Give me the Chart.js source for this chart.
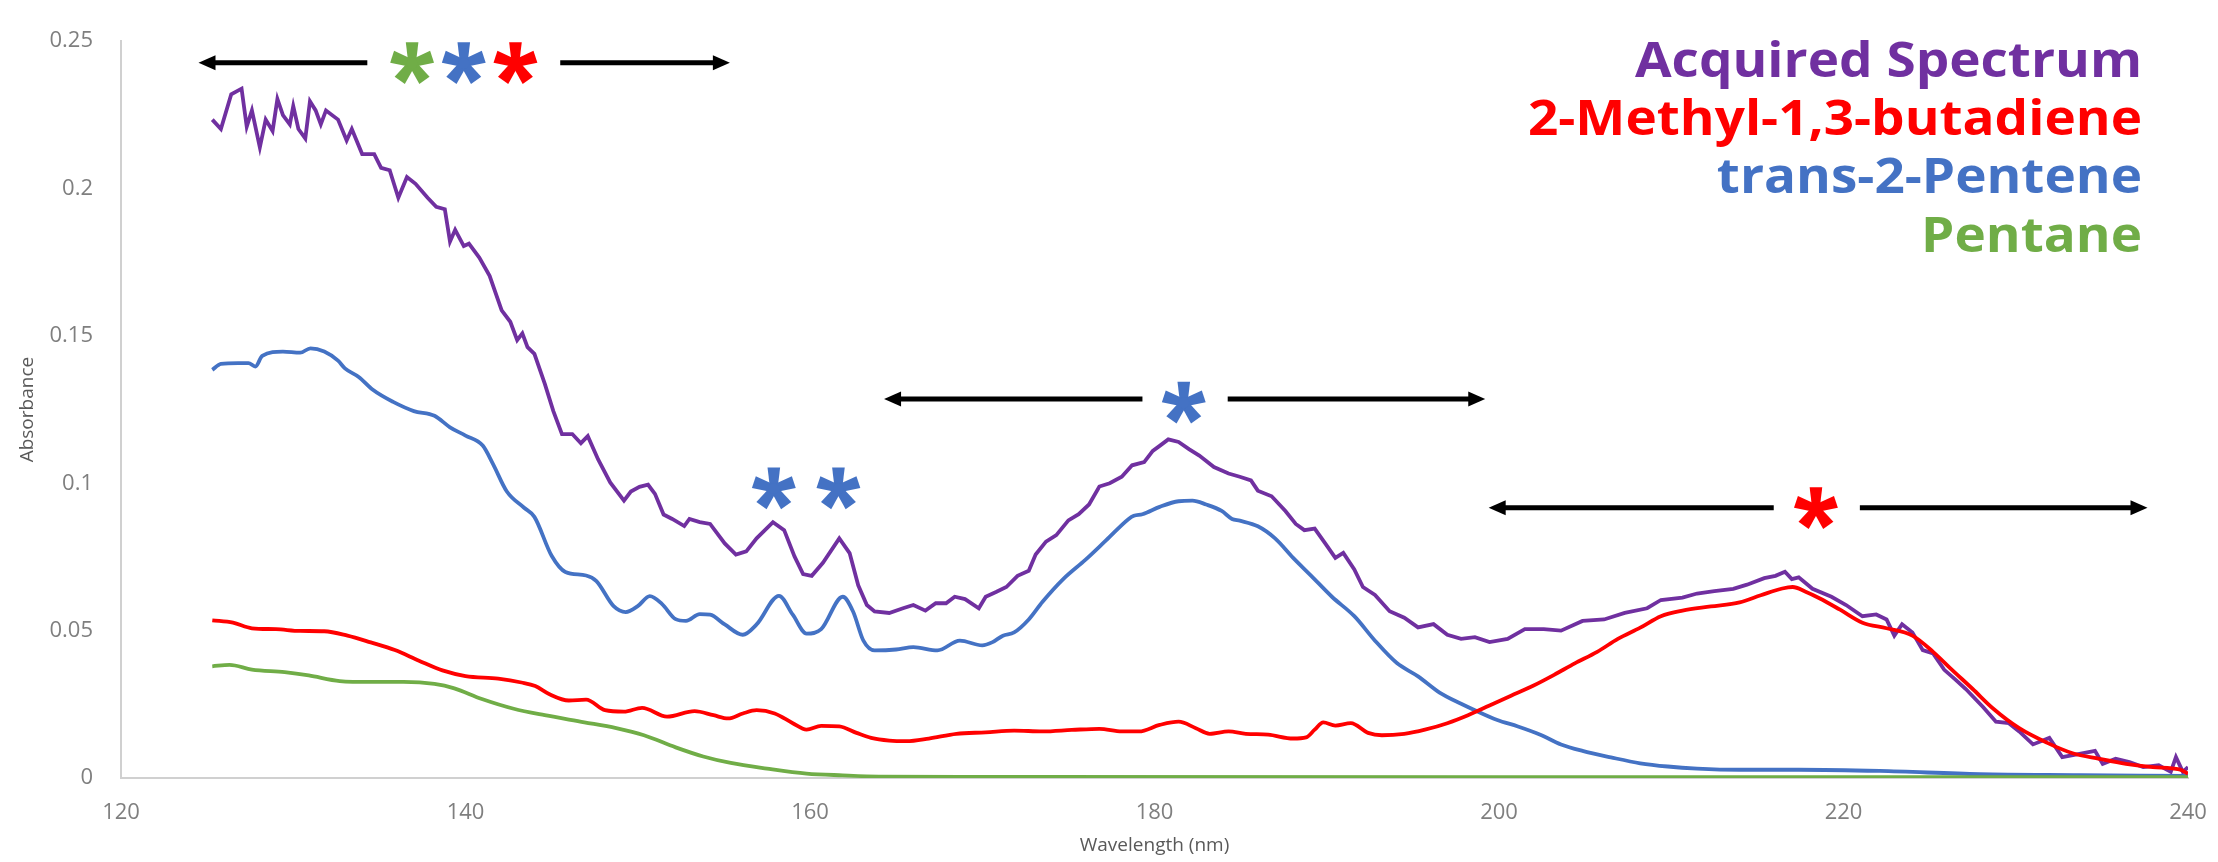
<!DOCTYPE html>
<html>
<head>
<meta charset="utf-8">
<title>Acquired spectrum vs. reference spectra</title>
<script src="https://cdn.jsdelivr.net/npm/chart.js@4.4.1/dist/chart.umd.min.js"></script>
<style>
  html, body { margin: 0; padding: 0; background: #ffffff; }
  canvas { display: block; }
</style>
</head>
<body>
<canvas id="spectrumChart" width="2218" height="862"></canvas>
<script>
// wavelength (nm) and absorbance
const acquiredNm = [125.3, 125.8, 126.4, 127.0, 127.3, 127.6, 128.06, 128.4, 128.8, 129.08, 129.4, 129.8, 130.0, 130.3, 130.7, 130.97, 131.3, 131.6, 131.9, 132.6, 133.1, 133.4, 134.0, 134.7, 135.1, 135.6, 136.1, 136.6, 137.1, 137.8, 138.3, 138.8, 139.1, 139.4, 139.9, 140.2, 140.8, 141.4, 142.1, 142.6, 143.0, 143.3, 143.6, 144.0, 144.6, 145.1, 145.6, 146.2, 146.7, 147.1, 147.7, 148.4, 149.2, 149.6, 150.1, 150.6, 151.0, 151.5, 152.0, 152.7, 153.0, 153.6, 154.2, 155.05, 155.7, 156.3, 156.9, 157.85, 158.5, 159.1, 159.6, 160.1, 160.75, 161.7, 162.3, 162.8, 163.3, 163.75, 164.6, 165.4, 166.0, 166.7, 167.3, 167.9, 168.4, 169.0, 169.8, 170.2, 170.8, 171.4, 172.05, 172.7, 173.1, 173.7, 174.3, 175.0, 175.6, 176.2, 176.8, 177.4, 178.1, 178.7, 179.4, 179.9, 180.3, 180.8, 181.4, 182.0, 182.6, 183.45, 184.3, 184.95, 185.6, 186.0, 186.8, 187.6, 188.2, 188.7, 189.3, 189.9, 190.5, 190.96, 191.6, 192.1, 192.8, 193.65, 194.5, 195.3, 196.2, 197.0, 197.8, 198.6, 199.45, 200.5, 201.5, 202.6, 203.6, 204.85, 206.1, 207.3, 208.6, 209.4, 210.65, 211.5, 212.5, 213.6, 214.4, 215.4, 216.05, 216.6, 217.0, 217.4, 218.2, 219.3, 220.15, 221.1, 221.9, 222.5, 222.95, 223.4, 224.0, 224.6, 225.2, 225.85, 226.5, 227.1, 228.1, 228.85, 229.6, 230.2, 231.0, 231.95, 232.7, 233.7, 234.6, 235.05, 235.8, 236.6, 237.4, 238.3, 239.0, 239.3, 239.7, 240.0];
const acquiredAbs = [0.2234, 0.2202, 0.2320, 0.2339, 0.2210, 0.2265, 0.2140, 0.2234, 0.2195, 0.2304, 0.2249, 0.2218, 0.2280, 0.2202, 0.2170, 0.2296, 0.2265, 0.2218, 0.2265, 0.2234, 0.2163, 0.2202, 0.2117, 0.2117, 0.2070, 0.2062, 0.1969, 0.2039, 0.2016, 0.1969, 0.1938, 0.1930, 0.1820, 0.1860, 0.1805, 0.1813, 0.1766, 0.1704, 0.1587, 0.1548, 0.1486, 0.1509, 0.1462, 0.1439, 0.1338, 0.1245, 0.1167, 0.1167, 0.1136, 0.1160, 0.1081, 0.1003, 0.0941, 0.0972, 0.0988, 0.0995, 0.0964, 0.0894, 0.0879, 0.0855, 0.0879, 0.0868, 0.0862, 0.0796, 0.0758, 0.0769, 0.0813, 0.0868, 0.0841, 0.0752, 0.0692, 0.0686, 0.0730, 0.0813, 0.0763, 0.0654, 0.0587, 0.0565, 0.0560, 0.0576, 0.0587, 0.0568, 0.0593, 0.0593, 0.0615, 0.0607, 0.0576, 0.0615, 0.0631, 0.0648, 0.0686, 0.0703, 0.0758, 0.0802, 0.0824, 0.0874, 0.0895, 0.0928, 0.0989, 0.1000, 0.1022, 0.1061, 0.1072, 0.1110, 0.1127, 0.1149, 0.1140, 0.1116, 0.1094, 0.1055, 0.1033, 0.1022, 0.1010, 0.0975, 0.0956, 0.0906, 0.0862, 0.0841, 0.0846, 0.0797, 0.0747, 0.0764, 0.0708, 0.0648, 0.0621, 0.0566, 0.0544, 0.0511, 0.0522, 0.0486, 0.0472, 0.0478, 0.0461, 0.0472, 0.0505, 0.0505, 0.0500, 0.0533, 0.0538, 0.0560, 0.0576, 0.0604, 0.0612, 0.0626, 0.0634, 0.0642, 0.0656, 0.0678, 0.0686, 0.0700, 0.0675, 0.0681, 0.0642, 0.0615, 0.0587, 0.0549, 0.0555, 0.0538, 0.0483, 0.0522, 0.0494, 0.0434, 0.0423, 0.0367, 0.0334, 0.0302, 0.0241, 0.0191, 0.0186, 0.0158, 0.0114, 0.0136, 0.0071, 0.0082, 0.0092, 0.0048, 0.0065, 0.0054, 0.0037, 0.0043, 0.0021, 0.0071, 0.0021, 0.0037];

const dieneNm = [125.3, 126.5, 127.6, 129.0, 130.4, 131.8, 133.15, 134.5, 135.9, 137.3, 138.66, 140.0, 141.9, 143.25, 144.05, 144.85, 146.0, 147.0, 148.1, 149.2, 150.25, 151.7, 153.3, 154.4, 155.25, 156.1, 156.9, 157.95, 159.0, 159.8, 160.65, 161.7, 162.7, 163.55, 164.6, 165.6, 166.9, 168.5, 170.2, 171.85, 173.5, 175.2, 176.8, 178.1, 179.1, 180.3, 181.4, 182.4, 183.2, 184.3, 185.3, 186.6, 188.05, 188.8, 189.3, 189.8, 190.5, 191.4, 192.4, 193.2, 194.5, 195.7, 197.0, 198.2, 199.45, 200.7, 201.95, 203.2, 204.4, 205.7, 206.9, 208.2, 209.4, 210.65, 212.3, 213.97, 215.2, 216.45, 217.05, 217.8, 218.6, 219.8, 221.1, 222.5, 224.0, 225.2, 226.3, 227.5, 228.7, 230.2, 231.8, 233.3, 234.85, 236.4, 237.95, 239.5, 240.0];
const dieneAbs = [0.0535, 0.0527, 0.0508, 0.0505, 0.0499, 0.0498, 0.0483, 0.0460, 0.0434, 0.0398, 0.0365, 0.0346, 0.0337, 0.0324, 0.0312, 0.0285, 0.0263, 0.0266, 0.0230, 0.0225, 0.0238, 0.0208, 0.0227, 0.0213, 0.0202, 0.0219, 0.0230, 0.0219, 0.0186, 0.0164, 0.0177, 0.0175, 0.0153, 0.0136, 0.0127, 0.0125, 0.0134, 0.0150, 0.0155, 0.0161, 0.0158, 0.0163, 0.0167, 0.0158, 0.0158, 0.0180, 0.0191, 0.0169, 0.0150, 0.0158, 0.0150, 0.0147, 0.0134, 0.0138, 0.0164, 0.0189, 0.0178, 0.0186, 0.0153, 0.0145, 0.0150, 0.0164, 0.0186, 0.0213, 0.0246, 0.0279, 0.0312, 0.0350, 0.0389, 0.0428, 0.0472, 0.0510, 0.0549, 0.0568, 0.0582, 0.0596, 0.0620, 0.0643, 0.0648, 0.0632, 0.0610, 0.0571, 0.0527, 0.0508, 0.0483, 0.0428, 0.0367, 0.0302, 0.0235, 0.0169, 0.0120, 0.0084, 0.0065, 0.0048, 0.0037, 0.0029, 0.0015];

const penteneNm = [125.3, 125.8, 126.8, 127.4, 127.8, 128.2, 129.4, 130.4, 131.0, 131.8, 132.6, 133.0, 133.8, 134.6, 135.8, 137.0, 138.2, 139.1, 140.0, 141.0, 141.6, 142.4, 143.4, 144.0, 145.0, 145.8, 147.0, 147.6, 148.6, 149.3, 150.0, 150.7, 151.4, 152.2, 152.8, 153.6, 154.2, 155.05, 156.1, 156.9, 158.2, 159.0, 159.8, 160.65, 161.9, 162.5, 163.1, 163.75, 165.0, 166.0, 167.4, 168.7, 170.0, 170.6, 171.2, 171.85, 172.7, 173.5, 174.7, 176.0, 177.2, 178.5, 178.8, 179.3, 180.3, 181.4, 182.2, 183.0, 183.9, 184.5, 184.95, 186.0, 187.0, 188.05, 189.1, 190.3, 191.6, 192.8, 194.07, 195.3, 196.55, 197.8, 198.6, 199.9, 201.1, 202.4, 203.6, 204.85, 206.5, 208.2, 209.8, 211.5, 214.0, 217.4, 222.1, 227.9, 233.7, 240.0];
const penteneAbs = [0.1385, 0.1405, 0.1408, 0.1408, 0.1396, 0.1432, 0.1447, 0.1443, 0.1458, 0.1447, 0.1416, 0.1390, 0.1361, 0.1318, 0.1276, 0.1245, 0.1229, 0.1190, 0.1162, 0.1128, 0.1065, 0.0972, 0.0917, 0.0886, 0.0754, 0.0699, 0.0687, 0.0668, 0.0583, 0.0563, 0.0583, 0.0617, 0.0591, 0.0539, 0.0533, 0.0556, 0.0554, 0.0521, 0.0486, 0.0521, 0.0618, 0.0554, 0.0490, 0.0505, 0.0615, 0.0565, 0.0466, 0.0433, 0.0436, 0.0444, 0.0433, 0.0466, 0.0450, 0.0461, 0.0483, 0.0494, 0.0538, 0.0598, 0.0675, 0.0741, 0.0807, 0.0879, 0.0890, 0.0895, 0.0920, 0.0939, 0.0941, 0.0928, 0.0906, 0.0879, 0.0873, 0.0854, 0.0813, 0.0747, 0.0686, 0.0615, 0.0549, 0.0466, 0.0390, 0.0345, 0.0290, 0.0252, 0.0230, 0.0197, 0.0175, 0.0147, 0.0114, 0.0092, 0.0070, 0.0050, 0.0039, 0.0032, 0.0028, 0.0028, 0.0024, 0.0013, 0.0010, 0.0007];

const pentaneNm = [125.3, 126.3, 127.6, 129.5, 130.9, 132.7, 134.5, 136.4, 138.2, 139.35, 140.95, 142.8, 144.6, 146.9, 148.75, 150.36, 152.2, 153.8, 155.4, 157.5, 159.8, 161.9, 164.0, 170.0, 200.0, 240.0];
const pentaneAbs = [0.0379, 0.0384, 0.0368, 0.0359, 0.0348, 0.0329, 0.0326, 0.0326, 0.0319, 0.0304, 0.0268, 0.0235, 0.0213, 0.0189, 0.0169, 0.0145, 0.0104, 0.0073, 0.0051, 0.0032, 0.0015, 0.0009, 0.0005, 0.0004, 0.0003, 0.0003];

const seriesNames = ['Acquired Spectrum', '2-Methyl-1,3-butadiene', 'trans-2-Pentene', 'Pentane'];
const seriesColors = ['#7030A0', '#FF0000', '#4472C4', '#70AD47'];

const xTickValues = [120, 140, 160, 180, 200, 220, 240];
const yTickValues = [0, 0.05, 0.1, 0.15, 0.2, 0.25];
const yTickLabels = ['0', '0.05', '0.1', '0.15', '0.2', '0.25'];

// annotation arrows: [left tip, left end, right start, right tip, absorbance level] in nm
const arrowSpans = [
  [124.5, 134.3, 145.5, 155.35, 0.2427],
  [164.3, 179.3, 184.25, 199.2, 0.1286],
  [199.4, 215.95, 220.95, 237.65, 0.0917]
];
// asterisks: [nm, absorbance, colour index into seriesColors]
const asteriskMarks = [
  [136.9, 0.2432, 3], [139.9, 0.2432, 2], [142.9, 0.2432, 1],
  [181.7, 0.1280, 2],
  [218.4, 0.0922, 1],
  [157.9, 0.0989, 2], [161.65, 0.0989, 2]
];

function toPoints(xs, ys) {
  return xs.map((x, i) => ({ x: x, y: ys[i] }));
}

function drawArrowHead(ctx, tipX, y, dir) {
  // dir = -1 points left, 1 points right
  ctx.beginPath();
  ctx.moveTo(tipX, y);
  ctx.lineTo(tipX - dir * 17, y - 7.5);
  ctx.lineTo(tipX - dir * 17, y + 7.5);
  ctx.closePath();
  ctx.fill();
}

function drawAsterisk(ctx, cx, cy, r, color) {
  ctx.save();
  ctx.translate(cx, cy + 0.1 * r);
  ctx.fillStyle = color;
  for (let k = 0; k < 5; k++) {
    ctx.save();
    ctx.rotate(k * 2 * Math.PI / 5);
    ctx.beginPath();
    ctx.moveTo(-3.8, 0);
    ctx.lineTo(-6.3, -r);
    ctx.lineTo(6.3, -r);
    ctx.lineTo(3.8, 0);
    ctx.closePath();
    ctx.fill();
    ctx.restore();
  }
  ctx.beginPath();
  ctx.arc(0, 0, 5.5, 0, 2 * Math.PI);
  ctx.fill();
  ctx.restore();
}

const annotationPlugin = {
  id: 'annotations',
  afterDatasetsDraw(chart) {
    const ctx = chart.ctx;
    const xs = chart.scales.x;
    const ys = chart.scales.y;
    ctx.save();
    ctx.strokeStyle = '#000000';
    ctx.fillStyle = '#000000';
    ctx.lineWidth = 5;
    arrowSpans.forEach(span => {
      const y = ys.getPixelForValue(span[4]);
      const a = xs.getPixelForValue(span[0]);
      const b = xs.getPixelForValue(span[1]);
      const c = xs.getPixelForValue(span[2]);
      const d = xs.getPixelForValue(span[3]);
      ctx.beginPath();
      ctx.moveTo(a + 10, y);
      ctx.lineTo(b, y);
      ctx.moveTo(c, y);
      ctx.lineTo(d - 10, y);
      ctx.stroke();
      drawArrowHead(ctx, a, y, -1);
      drawArrowHead(ctx, d, y, 1);
    });
    asteriskMarks.forEach(m => {
      drawAsterisk(ctx, xs.getPixelForValue(m[0]), ys.getPixelForValue(m[1]), 21, seriesColors[m[2]]);
    });
    ctx.restore();
  }
};

// coloured series names in the top-right corner
const nameListPlugin = {
  id: 'nameList',
  afterDraw(chart) {
    const ctx = chart.ctx;
    ctx.save();
    ctx.font = 'bold 49px "Open Sans"';
    ctx.textAlign = 'right';
    ctx.textBaseline = 'alphabetic';
    // the original lettering is a little wider than Open Sans
    const stretch = 507 / ctx.measureText(seriesNames[0]).width;
    const baselines = [77, 135, 193, 252];
    ctx.translate(2142, 0);
    ctx.scale(stretch, 1);
    seriesNames.forEach((name, i) => {
      ctx.fillStyle = seriesColors[i];
      ctx.fillText(name, 0, baselines[i]);
    });
    ctx.restore();
  }
};

document.addEventListener('DOMContentLoaded', function() {
  const ctx = document.getElementById('spectrumChart').getContext('2d');

  const lineStyle = {
    pointRadius: 0,
    borderWidth: 3.8,
    fill: false,
    tension: 0
  };

  const chartData = {
    datasets: [
      Object.assign({ label: seriesNames[0], data: toPoints(acquiredNm, acquiredAbs), borderColor: seriesColors[0], order: 3 }, lineStyle),
      Object.assign({ label: seriesNames[1], data: toPoints(dieneNm, dieneAbs), borderColor: seriesColors[1], order: 0, cubicInterpolationMode: 'monotone' }, lineStyle),
      Object.assign({ label: seriesNames[2], data: toPoints(penteneNm, penteneAbs), borderColor: seriesColors[2], order: 2, cubicInterpolationMode: 'monotone' }, lineStyle),
      Object.assign({ label: seriesNames[3], data: toPoints(pentaneNm, pentaneAbs), borderColor: seriesColors[3], order: 1, cubicInterpolationMode: 'monotone' }, lineStyle)
    ]
  };

  const tickFont = { family: '"Open Sans"', size: 22 };
  const titleFont = { family: '"Open Sans"', size: 19 };

  const config = {
    type: 'line',
    data: chartData,
    options: {
      responsive: false,
      animation: false,
      layout: { padding: { top: 20, right: 30, left: 0, bottom: 0 } },
      plugins: {
        legend: { display: false },
        tooltip: { enabled: false }
      },
      scales: {
        x: {
          type: 'linear',
          min: 120,
          max: 240,
          afterBuildTicks: scale => { scale.ticks = xTickValues.map(v => ({ value: v })); },
          afterFit: scale => {
            scale.height = 84;
            scale.paddingLeft = 0;
            scale.paddingRight = 0;
          },
          grid: { display: false, drawTicks: false },
          border: { display: true, color: '#d0d0d0', width: 2 },
          ticks: { font: tickFont, color: '#7f7f7f', padding: 22, maxRotation: 0 },
          title: { display: true, text: 'Wavelength (nm)', font: titleFont, color: '#595959', padding: { top: 0, bottom: 5 } }
        },
        y: {
          min: 0,
          max: 0.25,
          afterBuildTicks: scale => { scale.ticks = yTickValues.map(v => ({ value: v })); },
          afterFit: scale => { scale.width = 121; },
          grid: { display: false, drawTicks: false },
          border: { display: true, color: '#d0d0d0', width: 2 },
          ticks: {
            font: tickFont,
            color: '#7f7f7f',
            padding: 28,
            callback: function(value) {
              const i = yTickValues.findIndex(v => Math.abs(v - value) < 1e-9);
              return i >= 0 ? yTickLabels[i] : '';
            }
          },
          title: { display: true, text: 'Absorbance', font: titleFont, color: '#595959', padding: { top: 16, bottom: 0 } }
        }
      }
    },
    plugins: [annotationPlugin, nameListPlugin]
  };

  new Chart(ctx, config);
});
</script>
</body>
</html>
